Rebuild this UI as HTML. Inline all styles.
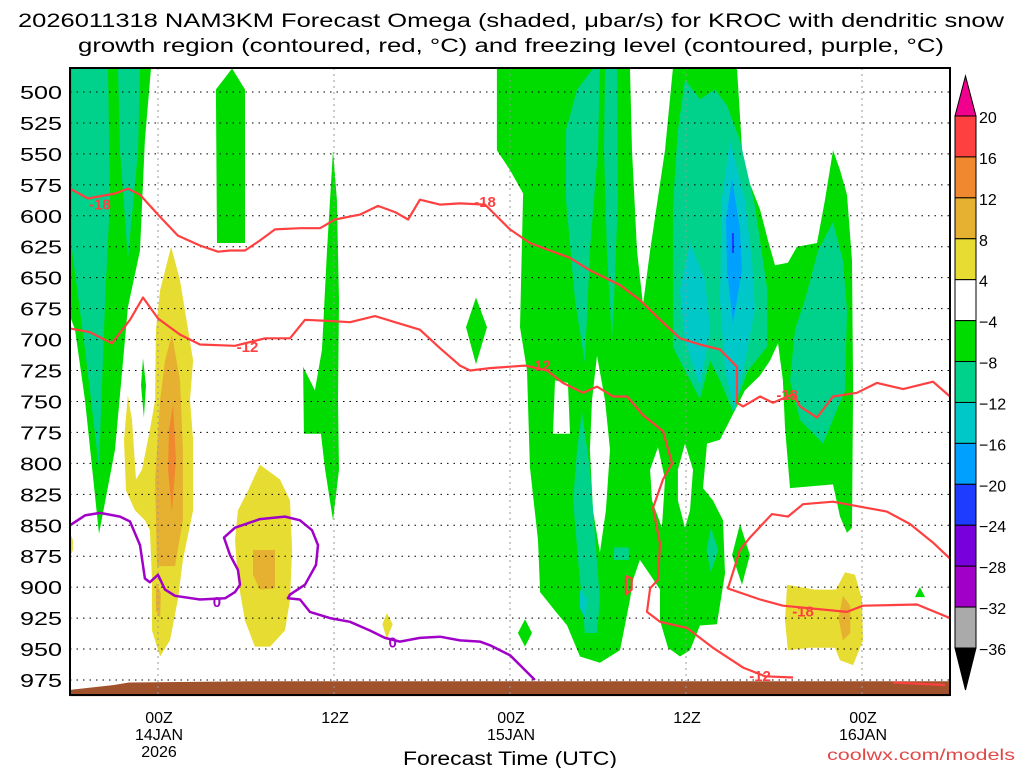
<!DOCTYPE html>
<html><head><meta charset="utf-8">
<style>
html,body{margin:0;padding:0;background:#fff;}
svg{display:block;font-family:"Liberation Sans",sans-serif;}
</style></head>
<body>
<svg id="chart" width="1024" height="768" viewBox="0 0 1024 768" xmlns="http://www.w3.org/2000/svg">
  <rect x="0" y="0" width="1024" height="768" fill="#fff"/>
  <g id="shade"></g>
  <g id="ground"></g>
  <g id="grid"></g>
  <g id="contours"></g>
  <g id="axes"></g>
  <g id="cbar"></g>
  <text x="511" y="27" text-anchor="middle" font-size="19" textLength="986" lengthAdjust="spacingAndGlyphs">2026011318 NAM3KM Forecast Omega (shaded, μbar/s) for KROC with dendritic snow</text>
  <text x="511" y="52" text-anchor="middle" font-size="19" textLength="866" lengthAdjust="spacingAndGlyphs">growth region (contoured, red, °C) and freezing level (contoured, purple, °C)</text>
  <text x="510" y="765" text-anchor="middle" font-size="19" textLength="214" lengthAdjust="spacingAndGlyphs">Forecast Time (UTC)</text>
  <text x="1015" y="760" text-anchor="end" font-size="16" fill="#E04848" textLength="188" lengthAdjust="spacingAndGlyphs">coolwx.com/models</text>
</svg>
<script>
// ---------- axis data ----------
const pressureTicks = [500,525,550,575,600,625,650,675,700,725,750,775,800,825,850,875,900,925,950,975];
const timeTickHours = [0,12,24,36,48];
const timeTickLabels = [["00Z","14JAN","2026"],["12Z"],["00Z","15JAN"],["12Z"],["00Z","16JAN"]];
const cbarLevels = [20,16,12,8,4,-4,-8,-12,-16,-20,-24,-28,-32,-36];
const cbarColors = ["#FF4040","#F08830","#E6B030","#E6DC32","#FFFFFF","#00DC00","#00D28C","#00C8C8","#00A0FF","#1E3CFF","#7800DC","#A000C8","#AAAAAA"];

// ---------- shaded omega regions [hour, hPa] ----------
const greenLeft = [[-6,481],[-0.48,481],[-0.89,539],[-1.23,628],[-2.05,674],[-2.93,789],[-4.02,857],[-4.98,749],[-5.66,692],[-6,681]];
const tealLeft = [[-5.86,481],[-3.41,481],[-3.27,587],[-3.61,668],[-4.02,803],[-4.98,708],[-5.86,628]];
const tealLeftFinger = [[-2.73,481],[-1.23,481],[-1.36,547],[-2.05,635],[-2.59,547]];
const greenFinger = [[5.05,481],[5.93,498],[5.93,622],[4.02,622],[3.95,498]];
const greenSliver = [[-1.02,715],[-0.82,737],[-0.96,763],[-1.16,737]];
const yellowMain = [[0.89,625],[1.5,652],[2.05,692],[2.39,717],[2.18,749],[2.39,781],[2.39,838],[1.7,878],[1.36,910],[0.82,943],[0.14,956],[-0.41,935],[-0.41,894],[-0.55,854],[-0.89,846],[-1.57,838],[-2.18,822],[-2.32,781],[-2.05,745],[-1.77,765],[-1.5,813],[-1.09,805],[-0.55,773],[-0.2,749],[-0.14,692],[0.14,660]];
const amberMain = [[0.95,696],[1.5,733],[1.7,789],[1.7,846],[1.16,883],[-0.07,883],[-0.2,813],[0.14,749],[0.48,717]];
const orangeMain = [[1.02,753],[1.23,797],[0.95,839],[0.68,805],[0.75,773]];
const amberSmall = [[-0.14,896],[0.2,905],[0.14,925],[-0.14,919]];
const yellowBlob2 = [[6.95,801],[8.32,813],[9.0,830],[9.14,870],[9.0,910],[8.66,935],[7.64,948],[6.61,948],[5.93,927],[5.45,894],[5.25,862],[5.45,838],[6.14,822]];
const amberBlob2 = [[6.48,870],[7.98,870],[7.98,901],[6.95,902],[6.48,890]];
const yellowEdge = [[-6,856],[-5.8,862],[-5.8,870],[-6,876]];
const yellowSmall = [[15.6,921],[16.0,930],[15.6,942],[15.3,930]];
const green12Z = [[11.93,547],[12.2,587],[12.34,668],[12.27,749],[12.34,805],[11.93,846],[11.39,805],[11.11,776],[9.95,776],[9.89,722],[10.7,741],[11.18,708],[11.52,628]];
const greenDiamond = [[21.68,666],[22.43,690],[21.68,720],[21.0,690]];
const greenMain = [[23.11,481],[32.18,481],[32.32,547],[32.66,628],[33.07,672],[33.55,628],[34.57,547],[35.11,481],[39.48,481],[39.89,560],[41.05,595],[41.59,620],[42.07,640],[42.95,638],[43.57,625],[44.93,622],[45.48,587],[46.02,547],[46.5,563],[46.98,583],[47.32,636],[47.39,738],[47.32,852],[46.98,856],[46.5,843],[46.02,817],[43.09,820],[42.75,771],[42.61,733],[42.27,703],[41.73,717],[41.05,729],[40.02,741],[39.0,765],[38.32,781],[37.43,784],[37.16,820],[37.84,830],[38.52,846],[38.66,889],[38.11,930],[36.95,931],[36.27,951],[35.59,956],[34.77,949],[34.23,927],[34.23,902],[33.55,890],[32.86,878],[32.39,894],[32.18,910],[31.5,951],[30.13,961],[28.77,956],[27.89,931],[27.07,919],[26.05,904],[25.91,862],[25.36,803],[25.16,725],[24.68,690],[24.89,582],[24.0,563],[23.11,547]];
const greenRightDiamond = [[39.68,849],[40.36,874],[39.82,898],[39.14,874]];
const greenSmallRight = [[51.95,900],[52.3,908],[51.61,908]];
const greenSmallLow = [[25.02,926],[25.5,937],[25.02,948],[24.54,937]];
const holeA = [[27.07,733],[27.95,735],[28.09,776],[26.93,776]];
const holeB = [[29.93,713],[30.48,749],[30.82,789],[30.54,838],[30.13,872],[29.66,838],[29.45,789],[29.59,749]];
const holeC = [[34.09,787],[34.57,813],[34.36,852],[33.68,830],[33.55,805]];
const holeD = [[35.93,784],[36.48,805],[36.27,838],[35.93,852],[35.45,830],[35.45,805]];
const tealA = [[28.57,498],[29.66,481],[30.13,481],[30.0,547],[29.45,628],[29.11,719],[28.43,668],[27.82,587],[27.82,531]];
const tealB = [[30.48,481],[31.29,481],[31.36,587],[31.09,668],[30.95,700],[30.61,628],[30.41,547]];
const tealLow = [[28.91,758],[29.45,805],[30.13,910],[29.93,937],[29.11,937],[28.64,878],[28.3,830],[28.57,789]];
const cyanLow = [[28.77,902],[29.25,910],[29.11,925],[28.77,917]];
const tealSquare = [[31.09,868],[32.1,868],[32.1,878],[31.09,878]];
const tealSmall = [[37.7,852],[38.2,870],[37.7,888],[37.4,870]];
const tealBig = [[35.93,490],[36.95,506],[37.98,498],[38.8,511],[39.68,539],[40.7,592],[41.52,658],[41.52,706],[40.23,725],[39.2,758],[38.32,733],[37.64,717],[36.95,748],[35.93,725],[35.11,706],[35.11,592],[35.45,531]];
const cyanA = [[36.27,622],[37.3,652],[37.64,692],[36.95,738],[35.93,700],[35.59,660]];
const cyanB = [[39.0,539],[40.02,587],[40.5,636],[40.7,676],[40.02,717],[39.34,758],[38.66,725],[38.32,668],[38.45,587]];
const blueCore = [[39.14,570],[39.68,611],[39.82,644],[39.2,687],[38.8,644],[38.73,603]];
const tealRight = [[46.02,605],[46.7,636],[46.98,676],[46.84,741],[45.34,784],[43.77,765],[43.09,733],[43.43,692],[44.11,668],[45.0,628]];
const yellowRight = [[42.89,898],[44.79,902],[46.23,902],[46.84,888],[47.52,890],[48.0,910],[48.07,943],[47.39,963],[46.5,959],[46.16,949],[44.45,949],[42.95,951],[42.75,927]];
const amberRight = [[46.7,907],[47.2,915],[47.2,937],[46.7,943],[46.4,925]];
const groundPoly = [[-6,988],[-6,983],[-3,979],[-2,977],[7,976],[54,976],[54,988]];

// ---------- contours [hour, hPa] ----------
const dgzCold1 = [[-6,578],[-4.77,586],[-2.93,582],[-2.05,578],[-1.23,583],[0,599],[1.36,616],[2.86,624],[4.09,629],[4.91,628],[5.93,628],[6.95,620],[7.98,611],[9.68,610],[11.05,610],[12.07,603],[13.77,599],[15.0,592],[16.16,597],[17.05,603],[17.86,587],[19.23,591],[20.59,590],[22.3,591],[24.0,611],[25.36,622],[26.73,628],[28.09,634],[29.45,644],[31.5,656],[32.86,668],[34.23,684],[35.59,699],[36.95,704],[38.32,708],[39.48,722],[39.48,751],[39.89,754],[41.05,746],[41.93,751],[43.3,744],[43.77,754],[44.93,763],[46.02,746],[47.66,743],[49.02,735],[50.8,740],[52.84,734],[54,746]];
const dgzWarm1 = [[-6,691],[-4.64,694],[-3.14,703],[-1.91,684],[-1.02,666],[0,683],[1.5,696],[2.86,704],[5.25,705],[7.3,699],[9.0,699],[10.02,684],[11.73,685],[13.09,686],[14.8,681],[16.16,686],[17.86,692],[19.23,707],[20.59,721],[21.27,725],[22.64,723],[25.02,721],[26.52,725],[27.61,735],[28.98,743],[29.93,738],[31.02,746],[31.98,746],[33.07,761],[34.43,774],[35.05,800],[34.43,813],[33.75,836],[34.23,865],[34.09,894],[33.55,901],[33.34,920],[34.23,928],[36.07,933],[37.84,949],[39.89,965],[41.4,972],[43.3,973]];
const dgzCold2 = [[54,877],[52.84,864],[51.27,849],[49.7,839],[48.34,836],[46.02,831],[43.98,833],[42.95,843],[41.86,841],[40.36,860],[39.68,870],[38.86,901],[41.05,910],[42.61,915],[46.98,920],[48.07,915],[51.75,914],[54,925]];
const dgzWarm2 = [[50.11,977],[53.66,979]];
const dgzLoop = [[31.9,891],[32.3,893],[32.3,902],[31.9,906],[31.9,891]];
const freezing = [[-6,850],[-4.98,842],[-3.95,840],[-2.59,843],[-1.91,847],[-1.23,866],[-0.89,893],[-0.55,896],[0,890],[0.48,902],[1.16,907],[2.86,910],[4.57,909],[5.25,904],[5.59,898],[5.45,886],[4.91,874],[4.5,860],[5.25,852],[6.95,845],[8.66,843],[9.68,846],[10.5,854],[10.91,866],[10.77,882],[10.02,898],[9.0,906],[8.86,909],[9.68,910],[10.36,920],[11.73,925],[13.09,928],[14.45,935],[15.48,941],[16.5,944],[17.86,941],[19.23,940],[20.59,943],[21.95,944],[22.64,947],[23.32,951],[24.0,955],[24.68,963],[25.7,975]];
const redLabels = [[-3.95,590,"-18"],[22.3,588,"-18"],[42.9,744,"-18"],[6.1,705,"-12"],[26.05,720,"-12"],[41.05,971,"-12"],[43.98,919,"-18"]];
const purpleLabels = [[4.02,911,"0"],[16.0,944,"0"]];

// ---------- axis functions ----------
const X0=70, X1=950, H0=-6, H1=54;
const P0=500, Y500=92, PXPERHPA=588/475;
const xs = h => X0 + (h-H0)*(X1-X0)/(H1-H0);
const ys = p => Y500 + (p-P0)*PXPERHPA;
const NS="http://www.w3.org/2000/svg";
function mk(tag, attrs, parent){const e=document.createElementNS(NS,tag);for(const k in attrs)e.setAttribute(k,attrs[k]);parent.appendChild(e);return e;}
const pts = arr => arr.map(d=>xs(d[0]).toFixed(1)+","+ys(d[1]).toFixed(1)).join(" ");

const shade=document.getElementById("shade");
const clip=mk("clipPath",{id:"plotclip"},mk("defs",{},document.getElementById("chart")));
mk("rect",{x:X0,y:68,width:X1-X0,height:627},clip);
shade.setAttribute("clip-path","url(#plotclip)");
const layers=[
 [greenLeft,"#00DC00","green-left-plume"],[tealLeft,"#00D28C","teal-left-plume"],[tealLeftFinger,"#00D28C","teal-left-finger"],
 [greenFinger,"#00DC00","green-finger"],[greenSliver,"#00DC00","green-sliver"],
 [yellowMain,"#E6DC32","yellow-updraft-main"],[amberMain,"#E6B030","amber-updraft-main"],[orangeMain,"#F08830","orange-updraft-core"],[amberSmall,"#E6B030","amber-small"],
 [yellowBlob2,"#E6DC32","yellow-updraft-2"],[amberBlob2,"#E6B030","amber-updraft-2"],[yellowEdge,"#E6DC32","yellow-edge"],[yellowSmall,"#E6DC32","yellow-small"],
 [green12Z,"#00DC00","green-12z-plume"],[greenDiamond,"#00DC00","green-diamond"],
 [greenMain,"#00DC00","green-main-mass"],[greenRightDiamond,"#00DC00","green-right-diamond"],[greenSmallRight,"#00DC00","green-small-right"],[greenSmallLow,"#00DC00","green-small-low"],
 [holeA,"#FFFFFF","gap-a"],[holeB,"#FFFFFF","gap-b"],[holeC,"#FFFFFF","gap-c"],[holeD,"#FFFFFF","gap-d"],
 [tealA,"#00D28C","teal-a"],[tealB,"#00D28C","teal-b"],[tealLow,"#00D28C","teal-low"],[cyanLow,"#00C8C8","cyan-low"],[tealSquare,"#00D28C","teal-square"],[tealSmall,"#00D28C","teal-small"],
 [tealBig,"#00D28C","teal-big"],[cyanA,"#00C8C8","cyan-a"],[cyanB,"#00C8C8","cyan-b"],[blueCore,"#00A0FF","blue-core"],[tealRight,"#00D28C","teal-right"],
 [yellowRight,"#E6DC32","yellow-updraft-right"],[amberRight,"#E6B030","amber-updraft-right"]
];
layers.forEach(l=>{
 const e=mk("polygon",{points:pts(l[0]),fill:l[1]},shade);
 
 
});
const bl=mk("line",{x1:xs(39.2),y1:ys(614),x2:xs(39.2),y2:ys(630),stroke:"#1E3CFF","stroke-width":2},shade);



const gnd=mk("polygon",{points:pts(groundPoly),fill:"#A0522D"},document.getElementById("ground"));



// grid
const grid=document.getElementById("grid");
pressureTicks.forEach(p=>{
 const l=mk("line",{x1:X0,x2:X1,y1:ys(p),y2:ys(p),stroke:"#000","stroke-width":1,"stroke-dasharray":"1.5 5"},grid);
 
 
});
timeTickHours.forEach(h=>{
 const l=mk("line",{x1:xs(h),x2:xs(h),y1:68,y2:695,stroke:"#999","stroke-width":1,"stroke-dasharray":"2 4"},grid);
 
 
});

// contours
const cg=document.getElementById("contours");
cg.setAttribute("clip-path","url(#plotclip)");
[[dgzCold1,"dgz-minus18-upper"],[dgzWarm1,"dgz-minus12-upper"],[dgzCold2,"dgz-minus18-lower"],[dgzWarm2,"dgz-minus12-lower"],[dgzLoop,"dgz-small-loop"]].forEach(c=>{
 const e=mk("polyline",{points:pts(c[0]),fill:"none",stroke:"#FF4040","stroke-width":2.2,"stroke-linejoin":"round"},cg);
 
 
});
const fz=mk("polyline",{points:pts(freezing),fill:"none",stroke:"#A000C8","stroke-width":2.5,"stroke-linejoin":"round"},cg);


redLabels.forEach(d=>{
 const t=mk("text",{x:xs(d[0]),y:ys(d[1])+6,"text-anchor":"middle","font-size":15,"font-weight":"bold",fill:"#FF4040"},cg);
 t.textContent=d[2];
 
 
});
purpleLabels.forEach(d=>{
 const t=mk("text",{x:xs(d[0]),y:ys(d[1])+6,"text-anchor":"middle","font-size":15,"font-weight":"bold",fill:"#A000C8"},cg);
 t.textContent=d[2];
 
 
});

// axes
const ax=document.getElementById("axes");
const fr=mk("rect",{x:X0,y:68,width:X1-X0,height:627,fill:"none",stroke:"#000","stroke-width":2},ax);


pressureTicks.forEach(p=>{
 const t=mk("text",{x:62,y:ys(p)+7,"text-anchor":"end","font-size":18,textLength:42,lengthAdjust:"spacingAndGlyphs"},ax);
 t.textContent=p;
 
 
});
timeTickHours.forEach((h,i)=>{
 timeTickLabels[i].forEach((s,j)=>{
  const t=mk("text",{x:xs(h)+1,y:723+j*17,"text-anchor":"middle","font-size":16},ax);
  t.textContent=s;
  
  
 });
});

// colorbar
const cb=document.getElementById("cbar");
const CBX=955, CBW=21, CBT=116, CBB=648;
const step=(CBB-CBT)/cbarColors.length;
const tri=mk("polygon",{points:`${CBX},${CBT} ${CBX+CBW},${CBT} ${CBX+CBW/2},76`,fill:"#F0008C",stroke:"#000","stroke-width":1},cb);


cbarColors.forEach((c,i)=>{
 const r=mk("rect",{x:CBX,y:CBT+i*step,width:CBW,height:step,fill:c,stroke:"#000","stroke-width":1},cb);
 
 
});
const tri2=mk("polygon",{points:`${CBX},${CBB} ${CBX+CBW},${CBB} ${CBX+CBW/2},690`,fill:"#000",stroke:"#000","stroke-width":1},cb);


cbarLevels.forEach((v,i)=>{
 const t=mk("text",{x:979,y:CBT+i*step+7,"font-size":16},cb);
 t.textContent=(v<0?"\u2212":"")+Math.abs(v);
 
 
});
</script>
</body></html>
